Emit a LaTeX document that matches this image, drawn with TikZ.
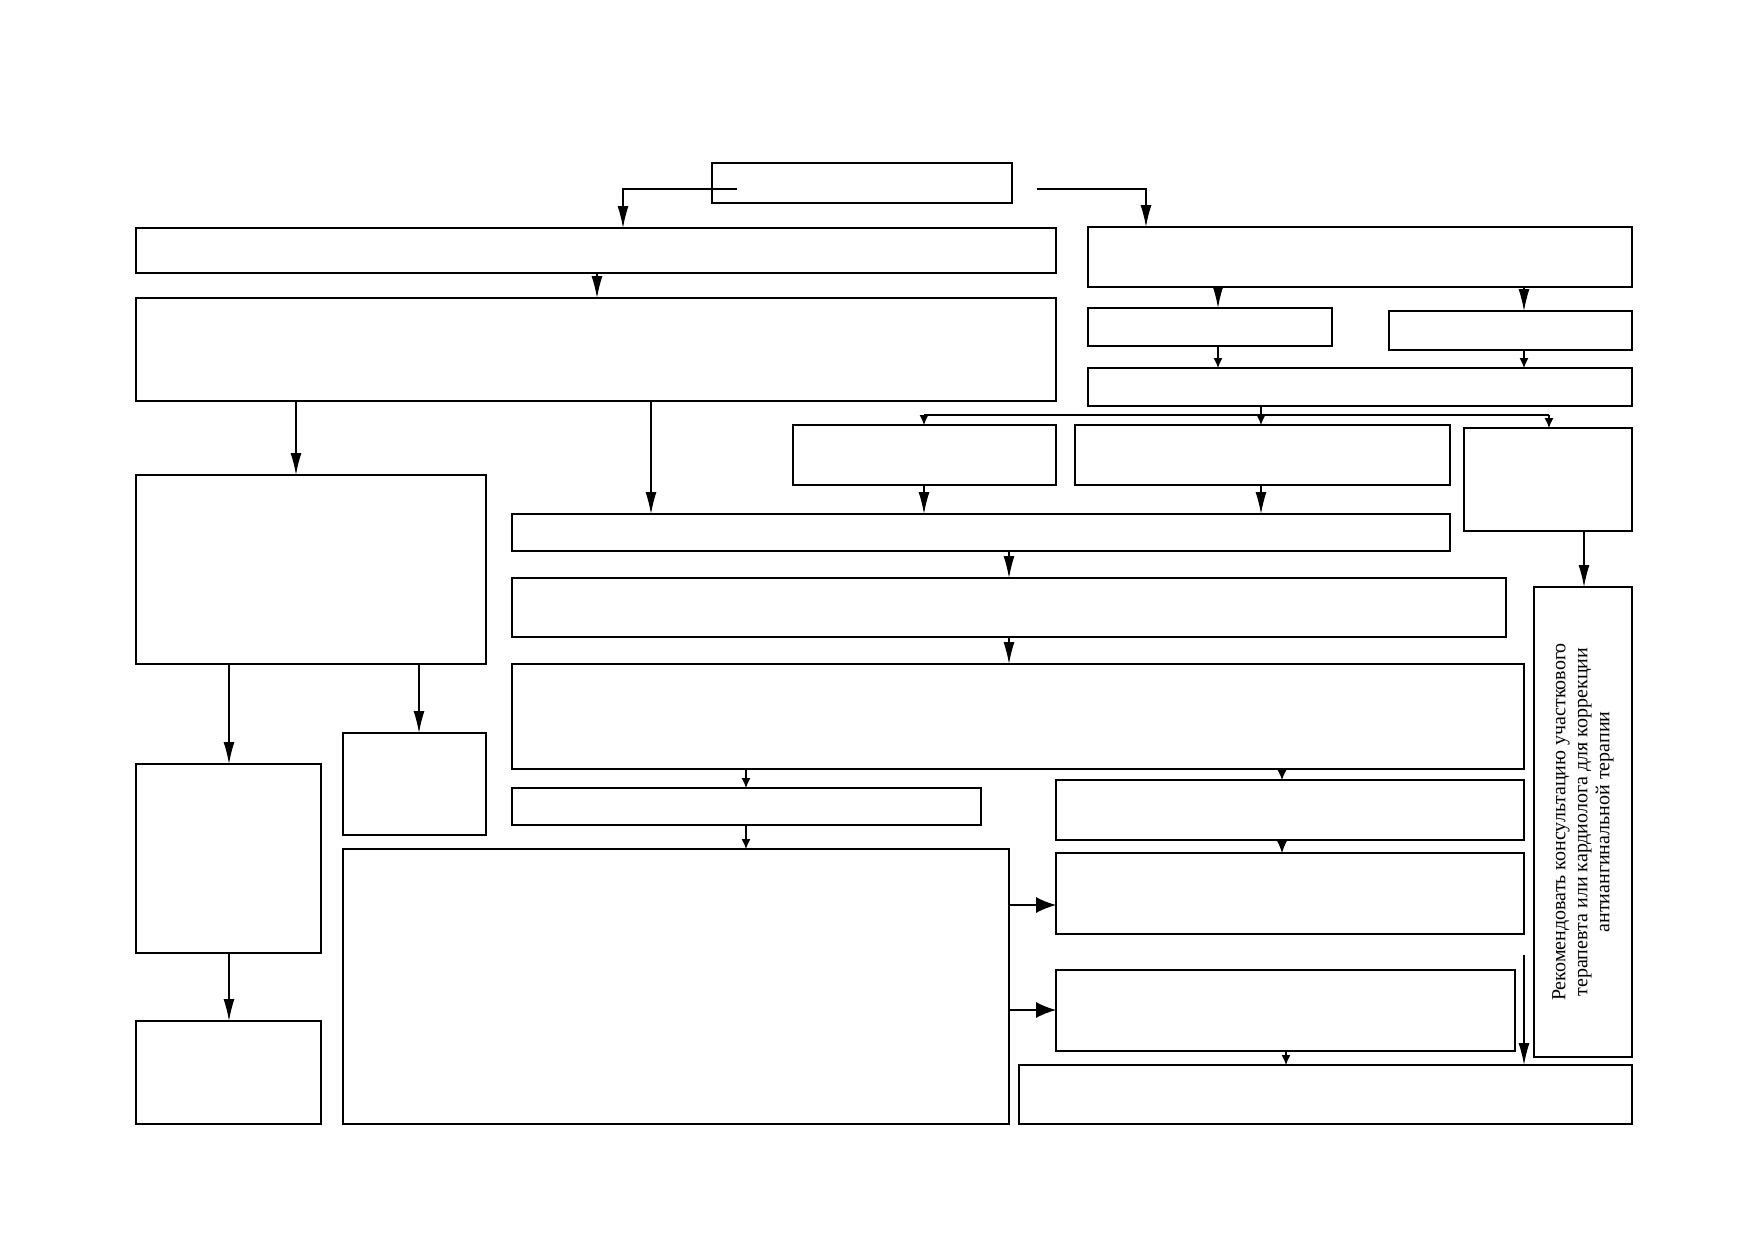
\documentclass[tikz,border=0pt]{standalone}
\usepackage{fontspec}
\setmainfont{Liberation Serif}
\usetikzlibrary{arrows.meta}
\tikzset{
  box/.style={draw, line width=0.7pt, inner sep=0pt, outer sep=0pt, fill=white},
  conn/.style={line width=0.6pt},
  arrbig/.style={conn, -{Latex[length=11pt,width=5.5pt]}},
  arrsmall/.style={conn, -{Latex[length=5pt,width=4.5pt]}},
  arrmid/.style={conn, -{Latex[length=7pt,width=6pt]}},
  arrwide/.style={conn, -{Latex[length=10pt,width=8pt]}},
}
\newcommand{\bx}[5]{\node[box, anchor=north west, minimum width={(#4-#2)*0.5pt}, minimum height={(#5-#3)*0.5pt}] (#1) at (#2,#3) {};}
\begin{document}
\begin{tikzpicture}[x=0.5pt,y=-0.5pt]
\useasboundingbox (0,0) rectangle (1752,1239);
% boxes
\bx{top}{712}{163}{1012}{203}
\bx{A}{136}{228}{1056}{273}
\bx{B}{136}{298}{1056}{401}
\bx{C}{1088}{227}{1632}{287}
\bx{D}{1088}{308}{1332}{346}
\bx{E}{1389}{311}{1632}{350}
\bx{F}{1088}{368}{1632}{406}
\bx{G}{793}{425}{1056}{485}
\bx{H}{1075}{425}{1450}{485}
\bx{I}{1464}{428}{1632}{531}
\bx{J}{136}{475}{486}{664}
\bx{K}{512}{514}{1450}{551}
\bx{L}{512}{578}{1506}{637}
\bx{M}{512}{664}{1524}{769}
\bx{O}{512}{788}{981}{825}
\bx{P}{1056}{780}{1524}{840}
\bx{Q}{343}{849}{1009}{1124}
\bx{R}{1056}{853}{1524}{934}
\bx{S}{1056}{970}{1515}{1051}
\bx{T}{1019}{1065}{1632}{1124}
\bx{U}{343}{733}{486}{835}
\bx{V}{136}{764}{321}{953}
\bx{W}{136}{1021}{321}{1124}
\bx{N}{1534}{587}{1632}{1057}
\node[rotate=90, align=center, font=\fontsize{10pt}{11pt}\selectfont] (Ntext) at (N.center)
  {Рекомендовать консультацию участкового\\терапевта или кардиолога для коррекции\\антиангинальной терапии};
% x positions
\coordinate (xa) at (623,0);
\coordinate (xb) at (1146,0);
\coordinate (xab) at (597,0);
\coordinate (xcd) at (1218,0);
\coordinate (xce) at (1524,0);
\coordinate (xf) at (1261,0);
\coordinate (xg) at (924,0);
\coordinate (xi) at (1549,0);
\coordinate (xbj) at (296,0);
\coordinate (xbk) at (651,0);
\coordinate (xkl) at (1009,0);
\coordinate (xin) at (1584,0);
\coordinate (xmo) at (746,0);
\coordinate (xmp) at (1282,0);
\coordinate (xst) at (1286,0);
\coordinate (xjv) at (229,0);
\coordinate (xju) at (419,0);
\coordinate (yqr) at (0,905);
\coordinate (yqs) at (0,1010);
\coordinate (t1) at (737,189);
\coordinate (t2) at (1037,189);
\coordinate (fb) at (0,415);
\coordinate (free) at (1524,955);
% connectors
\draw[arrbig] (t1) -| (A.north -| xa);
\draw[arrbig] (t2) -| (C.north -| xb);
\draw[arrbig] (A.south -| xab) -- (B.north -| xab);
\draw[arrbig] (C.south -| xcd) -- (D.north -| xcd);
\draw[arrbig] (C.south -| xce) -- (E.north -| xce);
\draw[arrsmall] (D.south -| xcd) -- (F.north -| xcd);
\draw[arrsmall] (E.south -| xce) -- (F.north -| xce);
\draw[conn] (F.south -| xf) -- (fb -| xf);
\draw[conn] (fb -| xg) -- (fb -| xi);
\draw[arrsmall] (fb -| xg) -- (G.north -| xg);
\draw[arrsmall] (fb -| xf) -- (H.north -| xf);
\draw[arrsmall] (fb -| xi) -- (I.north -| xi);
\draw[arrbig] (G.south -| xg) -- (K.north -| xg);
\draw[arrbig] (H.south -| xf) -- (K.north -| xf);
\draw[arrbig] (B.south -| xbj) -- (J.north -| xbj);
\draw[arrbig] (B.south -| xbk) -- (K.north -| xbk);
\draw[arrbig] (K.south -| xkl) -- (L.north -| xkl);
\draw[arrbig] (L.south -| xkl) -- (M.north -| xkl);
\draw[arrbig] (I.south -| xin) -- (N.north -| xin);
\draw[arrsmall] (M.south -| xmo) -- (O.north -| xmo);
\draw[arrsmall] (M.south -| xmp) -- (P.north -| xmp);
\draw[arrsmall] (O.south -| xmo) -- (Q.north -| xmo);
\draw[arrmid] (P.south -| xmp) -- (R.north -| xmp);
\draw[arrwide] (Q.east |- yqr) -- (R.west |- yqr);
\draw[arrwide] (Q.east |- yqs) -- (S.west |- yqs);
\draw[arrsmall] (S.south -| xst) -- (T.north -| xst);
\draw[arrbig] (free) -- (T.north -| free);
\draw[arrbig] (J.south -| xjv) -- (V.north -| xjv);
\draw[arrbig] (J.south -| xju) -- (U.north -| xju);
\draw[arrbig] (V.south -| xjv) -- (W.north -| xjv);
\end{tikzpicture}
\end{document}
